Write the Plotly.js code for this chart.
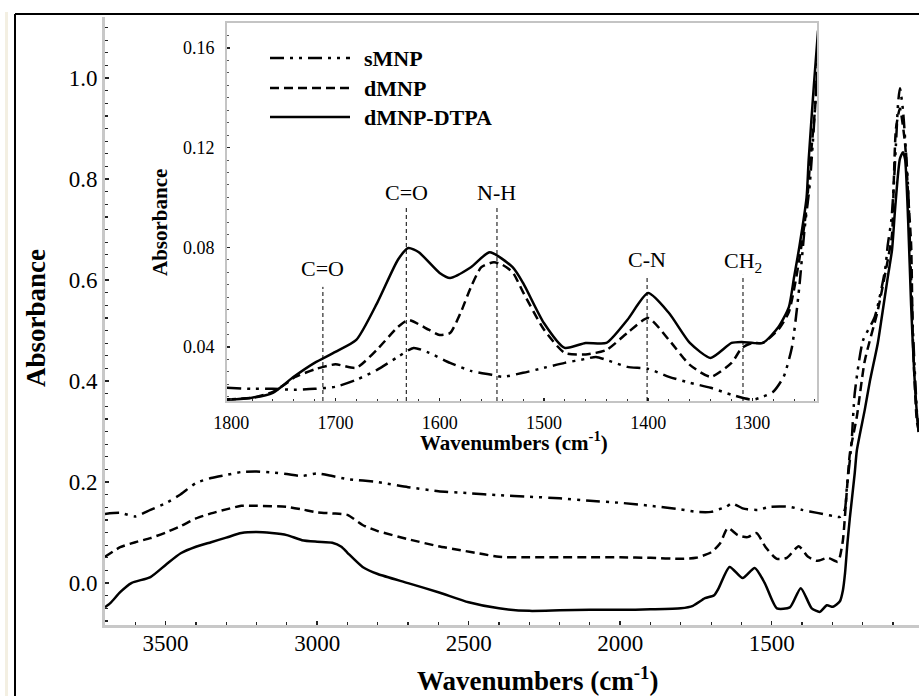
<!DOCTYPE html>
<html>
<head>
<meta charset="utf-8">
<script src="https://cdn.plot.ly/plotly-3.0.1.min.js"></script>
<style>html,body{margin:0;padding:0;background:#fff;}#chart{width:919px;height:696px;}</style>
</head>
<body>
<div id="chart"></div>
<script>
// ---------- main spectrum data ----------
const mainWn_sMNP = [3700,3650,3600,3550,3500,3450,3400,3350,3300,3250,3200,3150,3100,3050,3000,2950,2900,2800,2700,2600,2500,2400,2300,2200,2100,2000,1900,1800,1750,1700,1680,1650,1632,1596,1580,1546,1505,1440,1400,1350,1300,1275,1259,1252,1242,1236,1226,1199,1160,1126,1117,1105,1097,1090,1083,1077,1067,1050,1044,1034,1021,1014];
const mainAbs_sMNP = [0.137,0.139,0.132,0.145,0.158,0.176,0.198,0.208,0.214,0.22,0.221,0.219,0.216,0.212,0.217,0.212,0.206,0.2,0.19,0.182,0.178,0.174,0.171,0.168,0.163,0.159,0.153,0.146,0.141,0.141,0.145,0.151,0.158,0.148,0.146,0.145,0.151,0.151,0.145,0.139,0.133,0.131,0.145,0.19,0.244,0.283,0.376,0.48,0.527,0.62,0.67,0.72,0.79,0.87,0.95,0.98,0.937,0.784,0.673,0.50,0.34,0.29];

const mainWn_dMNP = [3700,3650,3600,3550,3500,3450,3400,3350,3300,3250,3200,3100,3050,3000,2950,2900,2850,2800,2700,2600,2526,2450,2400,2300,2200,2100,2000,1900,1800,1750,1700,1670,1645,1612,1580,1550,1520,1483,1450,1411,1380,1350,1315,1282,1275,1265,1252,1242,1219,1193,1150,1117,1103,1097,1090,1077,1060,1050,1040,1034,1021,1014];
const mainAbs_dMNP = [0.052,0.071,0.081,0.089,0.1,0.113,0.128,0.138,0.146,0.153,0.153,0.151,0.146,0.14,0.138,0.135,0.115,0.103,0.087,0.073,0.065,0.057,0.052,0.051,0.051,0.051,0.051,0.05,0.048,0.05,0.061,0.079,0.109,0.095,0.091,0.099,0.071,0.048,0.05,0.073,0.052,0.044,0.05,0.042,0.052,0.085,0.184,0.257,0.33,0.44,0.54,0.64,0.69,0.80,0.90,0.94,0.87,0.77,0.67,0.48,0.32,0.30];

const mainWn_DTPA = [3700,3680,3650,3613,3550,3500,3450,3400,3350,3300,3250,3200,3150,3100,3050,3000,2950,2920,2900,2850,2800,2700,2600,2500,2400,2300,2200,2100,2000,1900,1800,1760,1720,1690,1675,1639,1596,1556,1523,1483,1440,1404,1368,1341,1318,1298,1275,1265,1258,1250,1242,1226,1219,1193,1176,1150,1136,1117,1103,1093,1077,1067,1060,1050,1040,1030,1020,1014];
const mainAbs_DTPA = [-0.048,-0.038,-0.018,0.0,0.012,0.036,0.059,0.072,0.081,0.09,0.099,0.101,0.099,0.095,0.085,0.082,0.08,0.072,0.06,0.032,0.018,0.0,-0.018,-0.038,-0.05,-0.055,-0.054,-0.053,-0.053,-0.052,-0.05,-0.045,-0.03,-0.024,-0.01,0.032,0.01,0.03,0.0,-0.05,-0.048,-0.01,-0.05,-0.057,-0.044,-0.047,-0.036,-0.014,0.02,0.08,0.13,0.218,0.263,0.343,0.40,0.475,0.53,0.606,0.66,0.74,0.84,0.853,0.84,0.72,0.55,0.42,0.33,0.30];

// ---------- inset data ----------
const insetWn_sMNP = [1804,1780,1760,1740,1720,1700,1680,1660,1640,1625,1610,1590,1570,1550,1540,1520,1500,1480,1460,1450,1440,1420,1400,1380,1360,1340,1320,1300,1290,1280,1270,1262,1255,1250,1245,1240,1237];
const insetAbs_sMNP = [0.0236,0.0232,0.0232,0.0228,0.0232,0.024,0.0268,0.0308,0.036,0.0396,0.0376,0.0336,0.0304,0.0288,0.028,0.0296,0.0316,0.0336,0.0352,0.036,0.0348,0.032,0.0312,0.028,0.0256,0.0236,0.0208,0.0188,0.02,0.022,0.028,0.04,0.064,0.087,0.105,0.135,0.16];

const insetWn_dMNP = [1804,1780,1760,1745,1740,1720,1700,1680,1660,1640,1630,1610,1600,1590,1580,1570,1560,1548,1540,1530,1520,1500,1480,1460,1440,1420,1400,1380,1360,1340,1320,1310,1300,1290,1275,1265,1255,1248,1245,1240,1237];
const insetAbs_dMNP = [0.019,0.0196,0.022,0.026,0.0276,0.031,0.033,0.0316,0.039,0.048,0.0508,0.0468,0.0448,0.0456,0.0536,0.064,0.072,0.074,0.073,0.07,0.062,0.047,0.0376,0.037,0.0388,0.0456,0.0516,0.0428,0.0328,0.028,0.0336,0.0396,0.0416,0.0416,0.047,0.054,0.075,0.096,0.112,0.135,0.155];

const insetWn_DTPA = [1804,1780,1760,1740,1720,1700,1680,1660,1640,1630,1620,1600,1590,1570,1552,1530,1520,1500,1480,1460,1440,1420,1400,1380,1360,1340,1320,1310,1290,1275,1265,1260,1255,1248,1246,1241,1237];
const insetAbs_DTPA = [0.0188,0.0196,0.0216,0.028,0.0336,0.038,0.0428,0.0576,0.075,0.0797,0.078,0.0697,0.0677,0.072,0.078,0.072,0.0657,0.0496,0.0396,0.0416,0.0416,0.0508,0.0616,0.0536,0.0416,0.0356,0.0416,0.042,0.0416,0.048,0.056,0.068,0.08,0.100,0.115,0.145,0.167];

// band assignments in the inset
const bandWn = [1712, 1632, 1545, 1401, 1309];
const bandLabels = ['C=O', 'C=O', 'N-H', 'C-N', 'CH<sub>2</sub>'];
const bandTop = [0.0641, 0.0958, 0.0958, 0.0677, 0.0689];
const bandLabelY = [0.0713, 0.1018, 0.1018, 0.0749, 0.0741];

const seriesNames = ['sMNP', 'dMNP', 'dMNP-DTPA'];

const FONT = 'Liberation Serif, Times New Roman, serif';
const DASHDOT = '14px,6px,3px,6px,3px,6px';
const DASH = '9px,5px';
const styles = [DASHDOT, DASH, 'solid'];

function tr(x, y, name, dash, xa, ya) {
  return {x: x, y: y, name: name, type: 'scatter', mode: 'lines', xaxis: xa, yaxis: ya,
    line: {color: '#000', width: 2.5, dash: dash, shape: 'spline', smoothing: 0.6},
    hoverinfo: 'skip', showlegend: false};
}

const data = [
  tr(mainWn_sMNP, mainAbs_sMNP, seriesNames[0], DASHDOT, 'x', 'y'),
  tr(mainWn_dMNP, mainAbs_dMNP, seriesNames[1], DASH, 'x', 'y'),
  tr(mainWn_DTPA, mainAbs_DTPA, seriesNames[2], 'solid', 'x', 'y'),
  tr(insetWn_sMNP, insetAbs_sMNP, seriesNames[0], DASHDOT, 'x2', 'y2'),
  tr(insetWn_dMNP, insetAbs_dMNP, seriesNames[1], DASH, 'x2', 'y2'),
  tr(insetWn_DTPA, insetAbs_DTPA, seriesNames[2], 'solid', 'x2', 'y2')
];

// geometry helpers (pixel -> paper)
const L = 105, R = 919, T = 17, B = 625;
const px = v => (v - L) / (R - L);
const py = v => (B - v) / (B - T);

const shapes = [];
const annotations = [];

// frame
shapes.push({type: 'rect', xref: 'paper', yref: 'paper', x0: px(5), x1: px(8), y0: py(696), y1: py(12), fillcolor: '#f3efe2', line: {width: 0}, layer: 'below'});
shapes.push({type: 'line', xref: 'paper', yref: 'paper', x0: px(15), x1: px(15), y0: py(696), y1: py(14), line: {color: '#000', width: 2}});
shapes.push({type: 'line', xref: 'paper', yref: 'paper', x0: px(15), x1: px(919), y0: py(14), y1: py(14), line: {color: '#000', width: 2}});

// band lines and labels
for (let i = 0; i < bandWn.length; i++) {
  shapes.push({type: 'line', xref: 'x2', yref: 'y2', x0: bandWn[i], x1: bandWn[i], y0: 0.0183, y1: bandTop[i],
    line: {color: '#000', width: 1, dash: '4px,3px'}});
  annotations.push({xref: 'x2', yref: 'y2', x: bandWn[i], y: bandLabelY[i], text: bandLabels[i], showarrow: false,
    xanchor: 'center', yanchor: 'middle', font: {family: FONT, size: 22, color: '#000'}});
}

// manual legend inside inset
const legY = [58, 88, 117];
for (let i = 0; i < 3; i++) {
  shapes.push({type: 'line', xref: 'paper', yref: 'paper', x0: px(270), x1: px(350), y0: py(legY[i]), y1: py(legY[i]),
    line: {color: '#000', width: 2.5, dash: styles[i]}});
  annotations.push({xref: 'paper', yref: 'paper', x: px(362), y: py(legY[i]), text: '<b>' + seriesNames[i] + '</b>', showarrow: false,
    xanchor: 'left', yanchor: 'middle', font: {family: FONT, size: 22, color: '#000'}});
}

// titles
annotations.push({xref: 'paper', yref: 'paper', x: px(537), y: py(679), text: '<b>Wavenumbers (cm<sup>-1</sup>)</b>', showarrow: false,
  xanchor: 'center', yanchor: 'middle', font: {family: FONT, size: 27, color: '#000'}});
annotations.push({xref: 'paper', yref: 'paper', x: px(36), y: py(318), text: '<b>Absorbance</b>', textangle: -90, showarrow: false,
  xanchor: 'center', yanchor: 'middle', font: {family: FONT, size: 27, color: '#000'}});
annotations.push({xref: 'paper', yref: 'paper', x: px(514), y: py(441), text: '<b>Wavenumbers (cm<sup>-1</sup>)</b>', showarrow: false,
  xanchor: 'center', yanchor: 'middle', font: {family: FONT, size: 21, color: '#000'}});
annotations.push({xref: 'paper', yref: 'paper', x: px(160), y: py(223), text: '<b>Absorbance</b>', textangle: -90, showarrow: false,
  xanchor: 'center', yanchor: 'middle', font: {family: FONT, size: 21, color: '#000'}});

const axBase = {showgrid: false, zeroline: false, showline: true, ticks: 'inside', tickcolor: '#222', tickwidth: 1.5};

const layout = {
  width: 919, height: 696,
  margin: {l: L, r: 919 - R, t: T, b: 696 - B, pad: 0},
  paper_bgcolor: '#fff', plot_bgcolor: '#fff',
  showlegend: false,
  font: {family: FONT, color: '#000'},
  xaxis: Object.assign({}, axBase, {
    domain: [0, 1], anchor: 'y', range: [3700, 1014], tick0: 0, dtick: 500, ticklen: 4, ticklabelstandoff: -5,
    linecolor: '#c8c8c8', linewidth: 3, tickfont: {family: FONT, size: 23, color: '#000'},
    minor: {dtick: 100, tick0: 0, ticks: 'inside', ticklen: 3, tickcolor: '#222', tickwidth: 1.2, showgrid: false}
  }),
  yaxis: Object.assign({}, axBase, {
    domain: [0, 1], anchor: 'x', range: [-0.083, 1.121], tick0: 0, dtick: 0.2, tickformat: '.1f', ticklen: 4,
    linecolor: '#c8c8c8', linewidth: 3, tickfont: {family: FONT, size: 23, color: '#000'},
    minor: {dtick: 0.025, tick0: 0, ticks: 'inside', ticklen: 3, tickcolor: '#222', tickwidth: 1.2, showgrid: false}
  }),
  xaxis2: Object.assign({}, axBase, {
    domain: [px(227), px(817)], anchor: 'y2', range: [1804, 1238], tick0: 0, dtick: 100, ticklen: 3, ticklabelstandoff: 4,
    linecolor: '#c4c4c4', linewidth: 2, mirror: true, tickfont: {family: FONT, size: 18, color: '#000'},
    minor: {dtick: 20, tick0: 0, ticks: 'inside', ticklen: 2, tickcolor: '#333', tickwidth: 1, showgrid: false}
  }),
  yaxis2: Object.assign({}, axBase, {
    domain: [py(401), py(23)], anchor: 'x2', range: [0.0183, 0.170], tickvals: [0.04, 0.08, 0.12, 0.16], tickformat: '.2f', ticklen: 3, ticklabelstandoff: 7,
    linecolor: '#c4c4c4', linewidth: 2, mirror: true, tickfont: {family: FONT, size: 18, color: '#000'},
    minor: {dtick: 0.005, tick0: 0, ticks: 'inside', ticklen: 2, tickcolor: '#555', tickwidth: 1, showgrid: false}
  }),
  shapes: shapes,
  annotations: annotations
};

Plotly.newPlot('chart', data, layout, {staticPlot: true, displayModeBar: false});
</script>
</body>
</html>
